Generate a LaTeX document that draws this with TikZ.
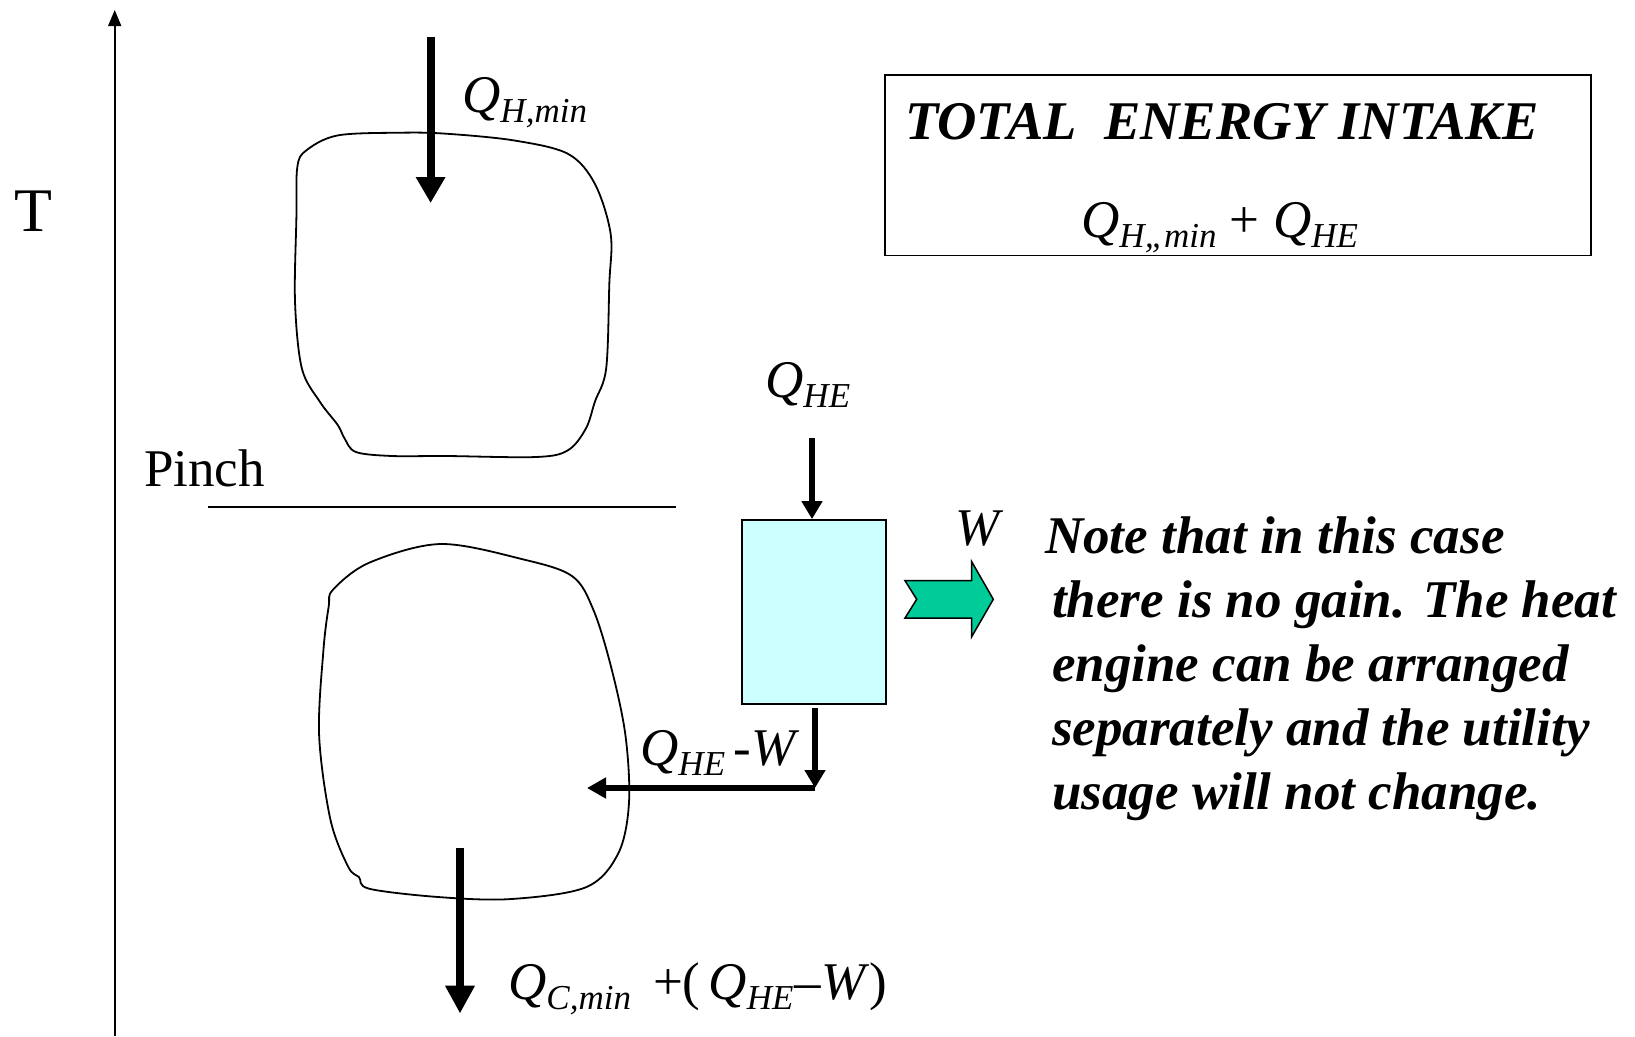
\documentclass[tikz,border=0pt]{standalone}
\usepackage{fontspec}
\setmainfont{Liberation Serif}
\usetikzlibrary{arrows.meta}
\definecolor{engine}{HTML}{CCFFFF}
\definecolor{workgreen}{HTML}{00CC99}
\newcommand\Qx[1]{\textit{Q}\raisebox{-10pt}{\fontsize{35pt}{35pt}\selectfont\textit{#1}}}
\begin{document}
\begin{tikzpicture}[x=1pt,y=-1pt,
  lbl/.style={inner sep=0pt, anchor=base west, font=\fontsize{53pt}{64pt}\selectfont},
  notetxt/.style={lbl, font=\fontsize{53pt}{64pt}\selectfont\bfseries\itshape},
  bigarrow/.style={line width=8pt, -{Triangle[length=26pt,width=28pt]}},
  midarrow/.style={line width=5.5pt, -{Triangle[length=18pt,width=20pt]}},
  blob/.style={line width=1.8pt},
]
\useasboundingbox (0,0) rectangle (1635,1036);

% axis
\coordinate (axisbot) at (114.7,1036);
\coordinate (axistop) at (114.7,10);
\draw[line width=1.6pt, -{Triangle[length=16pt,width=13pt]}] (axisbot) -- (axistop);
\node[lbl, font=\fontsize{62pt}{62pt}\selectfont] (T) at (14,231) {T};

% pinch
\node[lbl] (pinch) at (144,486) {Pinch};
\coordinate (pinchL) at (207.5,506.7);
\coordinate (pinchR) at (675.7,506.7);
\draw[line width=2pt] (pinchL) -- (pinchR);

% upper blob
\draw[blob] plot[smooth cycle, tension=0.55] coordinates {
 (306.3,150.4) (337.8,135.4) (401,132.7) (446,133.7) (513.7,140.4) (567.9,153.8)
 (594.9,183.9) (610.7,234.2) (609.3,284.4) (606.2,368.2) (594.9,401.7) (585.9,428.5)
 (567.9,450.3) (536.3,457) (446,456) (392,456) (355.9,452) (344.6,438.5) (337.8,425.1)
 (319.8,401.7) (301.8,368.2) (295,301.2) (296.4,217.4) (297.3,167.2)};

% lower blob
\draw[blob] plot[smooth cycle, tension=0.55] coordinates {
 (333.1,589.6) (369.5,562.6) (440.6,544) (522.4,559.2) (572.1,576.1) (593.4,609.9)
 (611.2,667.4) (625.4,735) (629,802.6) (618.3,853.3) (586.3,887.1) (511.7,899)
 (440.6,897.2) (369.5,888.8) (358.9,877) (348.2,866.8) (330.4,819.5) (319.1,735)
 (323.4,650.5) (328.7,606.5)};

% Q_H,min arrow
\coordinate (qhminTop) at (430.6,36.5);
\coordinate (qhminTip) at (430.6,203);
\draw[bigarrow] (qhminTop) -- (qhminTip);
\node[lbl] (qhmin) at (462,112) {\Qx{H,min}};

% total energy box
\node[draw, line width=1.8pt, minimum width=706pt, minimum height=180.5pt, inner sep=0pt] (totalbox) at (1238,165.3) {};
\node[lbl, font=\fontsize{54.5pt}{64pt}\selectfont\bfseries\itshape] (totaltxt) at (905,139) {TOTAL\ \ ENERGY INTAKE};
\node[lbl] (totalq) at (1081,237) {\Qx{H,,min} + \Qx{HE}};

% heat engine
\node[draw, line width=1.8pt, fill=engine, minimum width=144pt, minimum height=184pt, inner sep=0pt] (he) at (813.7,612) {};
\node[lbl] (qhe) at (765,397) {\Qx{HE}};
\coordinate (qheTop) at (812,438);
\draw[midarrow] (qheTop) -- (qheTop |- he.north);

% work arrow
\node[lbl] (wlbl) at (955,545) {\textit{W}};
\draw[line width=1.5pt, fill=workgreen] (905,580.7) -- (971.7,580.7) -- (971.7,561.7) -- (993.3,599.3)
  -- (971.7,636.7) -- (971.7,618) -- (905,618) -- (916.7,599.3) -- cycle;

% rejected heat
\coordinate (outStart) at (815,708);
\coordinate (outTip) at (815,788);
\coordinate (inTip) at (587,788);
\draw[midarrow] (outStart) -- (outTip);
\draw[line width=5.5pt, -{Triangle[length=19pt,width=20pt]}] (outTip) -- (inTip);
\node[lbl] (qhew) at (640,765) {\Qx{HE}\,-\textit{W}};

% cold utility
\coordinate (qcTop) at (460,848);
\coordinate (qcTip) at (460,1013.5);
\draw[line width=7.5pt, -{Triangle[length=28pt,width=28pt]}] (qcTop) -- (qcTip);
\node[lbl] (qc) at (508,999) {\Qx{C,min}\hspace{22pt}+(\hspace{8pt}\Qx{HE}\kern1pt–\textit{W})};

% note
\node[notetxt] (note1) at (1045,553) {Note that in this case};
\node[notetxt] (note2) at (1052,617) {there is no gain. The heat};
\node[notetxt] (note3) at (1052,681) {engine can be arranged};
\node[notetxt] (note4) at (1052,745) {separately and the utility};
\node[notetxt] (note5) at (1052,809) {usage will not change.};
\end{tikzpicture}
\end{document}
